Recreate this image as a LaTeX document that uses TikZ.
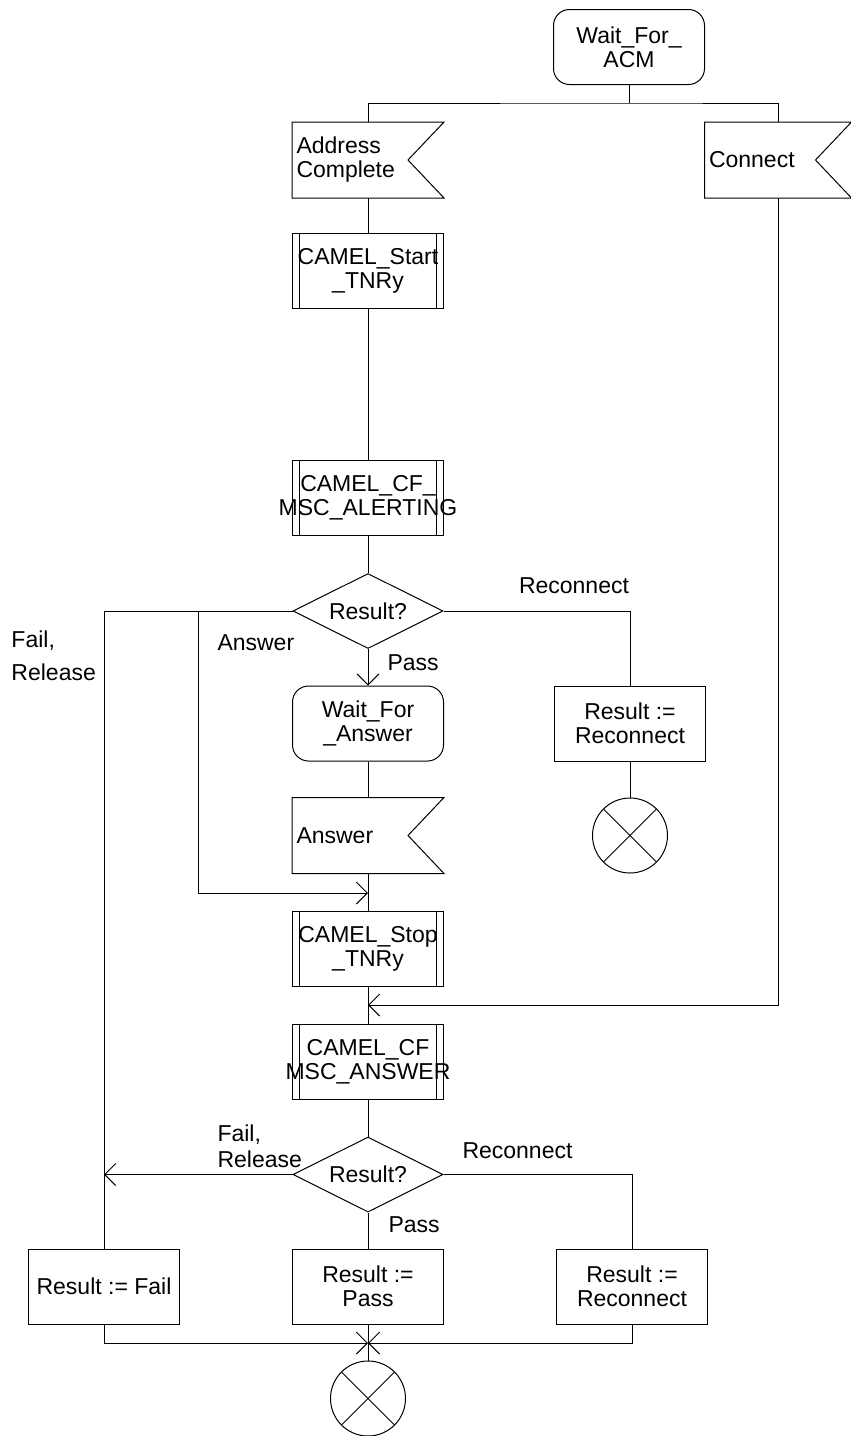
\documentclass[tikz,border=0pt]{standalone}
\usepackage{fontspec}
\setmainfont{Liberation Sans}
\usetikzlibrary{arrows.meta,shapes.geometric}
\newcommand{\wide}[1]{\makebox[0pt]{#1}}
\tikzset{
  sdlstate/.style={rectangle, rounded corners=16pt, draw, minimum width=151, minimum height=75,
                   inner sep=0pt, align=center},
  proc/.style={rectangle, draw, minimum width=151, minimum height=75, inner sep=0pt, align=center,
               path picture={
                 \draw ([xshift=7]path picture bounding box.north west) -- ([xshift=7]path picture bounding box.south west);
                 \draw ([xshift=-7]path picture bounding box.north east) -- ([xshift=-7]path picture bounding box.south east);}},
  insig/.style={rectangle, text width=#1, inner xsep=4pt, inner ysep=0pt, minimum height=75, align=left,
                append after command={\pgfextra{
                  \draw (\tikzlastnode.north east) -- (\tikzlastnode.north west) -- (\tikzlastnode.south west)
                    -- (\tikzlastnode.south east) -- ([xshift=-36]\tikzlastnode.east) -- cycle;}}},
  insig/.default=143,
  task/.style={rectangle, draw, minimum width=151, minimum height=75, inner sep=0pt, align=center},
  decide/.style={diamond, draw, minimum width=150, minimum height=75, inner sep=0pt, aspect=2},
  stopx/.style={circle, draw, minimum size=75, inner sep=0pt,
                path picture={
                  \draw (path picture bounding box.north west) -- (path picture bounding box.south east);
                  \draw (path picture bounding box.north east) -- (path picture bounding box.south west);}},
  lbl/.style={inner sep=0pt, align=left},
}

\begin{document}
\begin{tikzpicture}[x=1pt, y=-1pt, line width=1pt, font=\fontsize{23}{24}\selectfont,
                    >={Straight Barb[length=11pt, width=22pt]}]
  \useasboundingbox (0,0) rectangle (851,1436);

  % main column
  \node[sdlstate] (acm) at (629,47) {Wait\_For\_\\ACM};
  \node[insig] (addr) at (368,160) {Address\\Complete};
  \node[insig=138] (conn) at (778,160) {Connect};
  \node[proc] (start) at (368,271) {CAMEL\_Start\\\_TNRy};
  \node[proc] (alert) at (368,497.5) {CAMEL\_CF\_\\\wide{MSC\_ALERTING}};
  \node[decide] (res1) at (368,611) {Result?};
  \node[sdlstate] (wans) at (368,723.5) {Wait\_For\\\_Answer};
  \node[insig] (ans) at (368,835.5) {Answer};
  \node[proc] (stop) at (368,948.5) {CAMEL\_Stop\\\_TNRy};
  \node[proc] (cfans) at (368,1061.5) {CAMEL\_CF\\\wide{MSC\_ANSWER}};
  \node[decide] (res2) at (368,1174.5) {Result?};

  % results
  \node[task] (recon1) at (630,723.5) {Result :=\\Reconnect};
  \node[stopx] (end1) at (630,835.5) {};
  \node[task] (rfail) at (104,1286.5) {Result := Fail};
  \node[task] (rpass) at (368,1286.5) {Result :=\\Pass};
  \node[task] (recon2) at (632,1286.5) {Result :=\\Reconnect};
  \node[stopx] (end2) at (368,1398.5) {};

  \coordinate (fork) at (629,103);
  \coordinate (failtop) at (104,611);
  \coordinate (anstop) at (198,611);
  \coordinate (ansin) at (368,893);
  \coordinate (connin) at (368,1005);
  \coordinate (failin) at (104,1174.5);
  \coordinate (join) at (368,1343);

  % connectors
  \draw (acm) -- (fork);
  \draw (addr.north) |- (fork) -| (conn.north);
  \draw (addr) -- (start);
  \draw (start) -- (alert);
  \draw (alert) -- (res1);
  \draw[->] (res1) -- (wans);
  \draw (wans) -- (ans);
  \draw (ans) -- (stop);
  \draw (res1.west) -- (failtop) -- (rfail);
  \draw[->] (anstop) |- (ansin);
  \draw (res1.east) -| (recon1);
  \draw (recon1) -- (end1);
  \draw[->] (conn.south) |- (connin);
  \draw (stop) -- (cfans);
  \draw (cfans) -- (res2);
  \draw[->] (res2.west) -- (failin);
  \draw (res2.east) -| (recon2);
  \draw (res2) -- (rpass);
  \draw[->] (rfail.south) |- (join);
  \draw[->] (recon2.south) |- (join);
  \draw (rpass) -- (end2);

  % branch labels
  \node[lbl, anchor=center] (l1) at (574,586) {Reconnect};
  \node[lbl, anchor=west, font=\fontsize{23}{33}\selectfont] (l2) at (11,656) {Fail,\\Release};
  \node[lbl, anchor=west] (l3) at (217,643) {Answer};
  \node[lbl, anchor=west] (l4) at (387,663) {Pass};
  \node[lbl, anchor=west, font=\fontsize{23}{26}\selectfont] (l5) at (217,1146) {Fail,\\Release};
  \node[lbl, anchor=west] (l6) at (462,1151) {Reconnect};
  \node[lbl, anchor=west] (l7) at (388,1225) {Pass};
\end{tikzpicture}
\end{document}
